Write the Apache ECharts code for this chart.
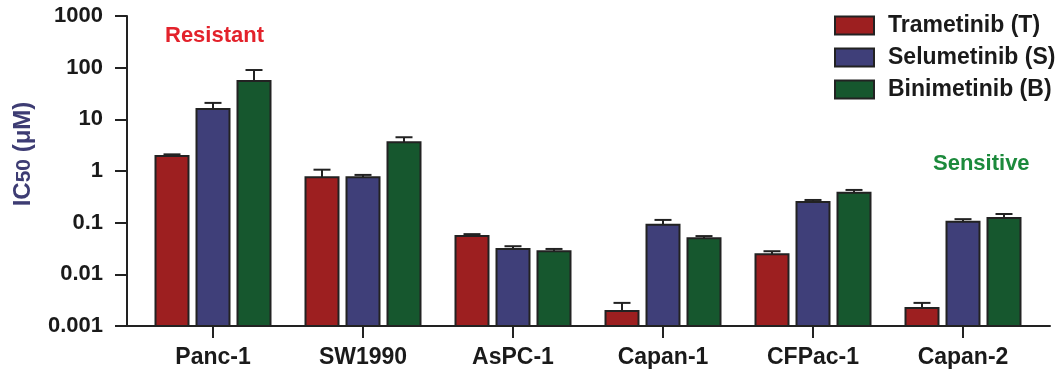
<!DOCTYPE html>
<html>
<head>
<meta charset="utf-8">
<script src="https://cdn.jsdelivr.net/npm/echarts@6/dist/echarts.min.js"></script>
<style>
html,body{margin:0;padding:0;background:#fff;}
#chart{width:1060px;height:372px;}
</style>
</head>
<body>
<div id="chart"></div>
<script>
const categories = ['Panc-1', 'SW1990', 'AsPC-1', 'Capan-1', 'CFPac-1', 'Capan-2'];
const seriesNames = ['Trametinib (T)', 'Selumetinib (S)', 'Binimetinib (B)'];
// mean IC50 (µM)
const trametinib  = [1.95, 0.76, 0.055, 0.00196, 0.0246, 0.00224];
const selumetinib = [15.8, 0.76, 0.031, 0.091, 0.25, 0.104];
const binimetinib = [55, 3.6, 0.028, 0.050, 0.38, 0.123];
// upper end of error bars (µM)
const trametinibErrTop  = [2.1, 1.06, 0.06, 0.0028, 0.028, 0.0028];
const selumetinibErrTop = [20.8, 0.84, 0.035, 0.113, 0.275, 0.117];
const binimetinibErrTop = [90, 4.5, 0.031, 0.055, 0.43, 0.147];
const yTickLabels = ['0.001', '0.01', '0.1', '1', '10', '100', '1000'];
const Y_MIN = 0.001, Y_MAX = 1000;

const colors = ['#9d1f20', '#3f3f79', '#16572e'];
const EDGE = '#222222';
const BAR_W = 33, BAR_GAP = 8, CAP_W = 17;
const FONT = '"Liberation Sans", Arial, sans-serif';

const values = [trametinib, selumetinib, binimetinib];
const errTops = [trametinibErrTop, selumetinibErrTop, binimetinibErrTop];

function makeRender(k) {
  return function (params, api) {
    const ci = api.value(0), v = api.value(1), e = api.value(2);
    const top = api.coord([ci, v]);
    const base = api.coord([ci, Y_MIN]);
    const et = api.coord([ci, e]);
    const cx = top[0] + (k - 1) * (BAR_W + BAR_GAP);
    return {
      type: 'group',
      children: [
        { type: 'line', shape: { x1: cx, y1: top[1], x2: cx, y2: et[1] }, style: { stroke: EDGE, lineWidth: 2 } },
        { type: 'line', shape: { x1: cx - CAP_W / 2, y1: et[1], x2: cx + CAP_W / 2, y2: et[1] }, style: { stroke: EDGE, lineWidth: 2 } },
        { type: 'rect', shape: { x: cx - BAR_W / 2, y: top[1], width: BAR_W, height: base[1] - top[1] },
          style: { fill: colors[k], stroke: EDGE, lineWidth: 2 } }
      ]
    };
  };
}

const series = seriesNames.map((name, k) => ({
  name: name,
  type: 'custom',
  xAxisIndex: 0,
  yAxisIndex: 0,
  itemStyle: { color: colors[k] },
  encode: { x: 0, y: 1 },
  data: categories.map((c, i) => [i, values[k][i], errTops[k][i]]),
  renderItem: makeRender(k),
  silent: true
}));

const chart = echarts.init(document.getElementById('chart'), null, { renderer: 'canvas' });
chart.setOption({
  animation: false,
  backgroundColor: '#ffffff',
  textStyle: { fontFamily: FONT },
  grid: [
    { left: 138, right: 22, top: 16, bottom: 46 },
    { left: 127, right: 10, top: 16, bottom: 46 }
  ],
  xAxis: [
    {
      type: 'category', gridIndex: 0, data: categories,
      axisLine: { show: false },
      axisTick: { show: true, alignWithLabel: true, length: 12, lineStyle: { color: EDGE, width: 2 } },
      axisLabel: { fontFamily: FONT, fontWeight: 'bold', fontSize: 23, color: '#1a1a1a', margin: 20 },
      splitLine: { show: false }
    },
    {
      type: 'value', gridIndex: 1, min: 0, max: 1,
      axisLine: { show: true, onZero: false, lineStyle: { color: EDGE, width: 2 } },
      axisTick: { show: false }, axisLabel: { show: false }, splitLine: { show: false }
    }
  ],
  yAxis: [
    {
      type: 'log', gridIndex: 0, logBase: 10, min: Y_MIN, max: Y_MAX, offset: 11,
      axisLine: { show: true, lineStyle: { color: EDGE, width: 2 } },
      axisTick: { show: true, length: 12, lineStyle: { color: EDGE, width: 2 } },
      axisLabel: {
        fontFamily: FONT, fontWeight: 'bold', fontSize: 22, color: '#1a1a1a', margin: 24,
        formatter: function (v) { return yTickLabels[Math.round(Math.log10(v)) + 3]; }
      },
      splitLine: { show: false },
      name: '{a|IC}{b|50}{a| (μM)}',
      nameLocation: 'middle',
      nameRotate: 90,
      nameGap: 89,
      nameTextStyle: {
        padding: [0, 0, 0, 34],
        rich: {
          a: { fontFamily: FONT, fontWeight: 'bold', fontSize: 24, color: '#3d3c73', lineHeight: 30 },
          b: { fontFamily: FONT, fontWeight: 'bold', fontSize: 21, color: '#3d3c73', lineHeight: 30, padding: [3, 0, 0, 0] }
        }
      }
    },
    {
      type: 'value', gridIndex: 1, min: 0, max: 1, show: false
    }
  ],
  legend: {
    orient: 'vertical',
    left: 834,
    top: 14,
    padding: 0,
    itemWidth: 39,
    itemHeight: 18,
    itemGap: 9,
    icon: 'rect',
    selectedMode: false,
    data: seriesNames.map((n, k) => ({
      name: n,
      itemStyle: { color: colors[k], borderColor: EDGE, borderWidth: 2 }
    })),
    textStyle: { fontFamily: FONT, fontWeight: 'bold', fontSize: 23, lineHeight: 18, color: '#1a1a1a', padding: [0, 0, 0, 9] }
  },
  graphic: [
    { type: 'text', left: 165, top: 25, style: { text: 'Resistant', fontFamily: FONT, fontWeight: 'bold', fontSize: 22, fill: '#e3222b' } },
    { type: 'text', left: 933, top: 153, style: { text: 'Sensitive', fontFamily: FONT, fontWeight: 'bold', fontSize: 22, fill: '#1c8a3c' } }
  ],
  series: series
});
</script>
</body>
</html>
